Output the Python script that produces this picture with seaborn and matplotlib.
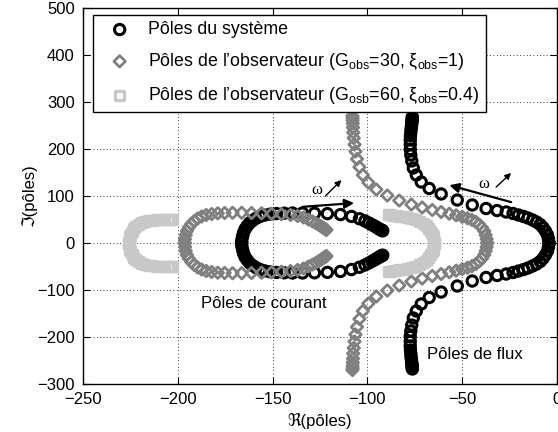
import numpy as np
import pandas as pd
import matplotlib

matplotlib.use("Agg")
import matplotlib.pyplot as plt
import seaborn as sns

# Upper half of each root locus; the lower half is the conjugate.
# System poles: current branch then flux branch
sys_cur_re = [-166.3, -166.2, -165.8, -165.3, -164.5, -163.4, -162.1, -160.5, -158.7, -156.6,
              -154.2, -151.3, -147.9, -143.9, -139.5, -134.2, -127.9, -121.1, -114.2, -108.4,
              -104.2, -101.3, -99.2, -97.6, -96.3, -95.3, -94.4, -93.7, -93.2, -92.6, -92.3, -91.9]
sys_cur_im = [0, 7.4, 14.9, 22.3, 29.8, 36.2, 42.6, 47.9, 52.6, 56.4,
              59.3, 61.3, 62.6, 63.4, 63.8, 63.8, 63.4, 62.5, 60.5, 56.5,
              51.6, 46.8, 42.6, 38.9, 36.2, 33.6, 31.5, 29.8, 28.5, 27.4, 26.6, 26.0]
sys_flux_re = [-4.2, -4.5, -5.0, -6.1, -7.4, -8.9, -10.8, -12.9, -15.3, -17.6,
               -20.3, -23.2, -26.8, -31.6, -37.4, -44.7, -52.6, -61.1, -67.4, -71.6,
               -74.2, -75.8, -76.6, -77.1, -77.4, -77.4, -77.4, -77.3, -77.1, -77.0,
               -76.8, -76.7, -76.6, -76.5, -76.4, -76.3, -76.3, -76.3]
sys_flux_im = [0, 8.5, 17.0, 25.5, 33.0, 39.4, 44.7, 48.9, 53.2, 56.4,
               59.6, 62.8, 66.0, 69.1, 73.4, 80.9, 91.5, 104.3, 116.0, 129.8,
               144.7, 159.6, 174.5, 187.2, 198.9, 209.6, 219.1, 227.7, 235.1, 241.5,
               246.8, 251.5, 255.3, 258.7, 261.7, 264.3, 266.4, 268.1]

# Observer poles, G_obs=30, xi_obs=1
obs30_cur_re = [-196.3, -196.2, -195.8, -195.2, -194.2, -192.9, -191.3, -189.5, -187.4, -185.0,
                -182.1, -178.9, -175.3, -171.1, -166.3, -161.1, -155.8, -150.5, -145.3, -140.5,
                -136.8, -133.7, -131.1, -128.9, -127.1, -125.6, -124.5, -123.6, -122.9, -122.4,
                -121.9, -121.6]
obs30_cur_im = [0, 8.5, 17.0, 25.5, 33.0, 40.4, 46.8, 52.1, 56.4, 59.6,
                61.7, 63.2, 63.8, 64.3, 64.3, 63.8, 63.2, 62.3, 61.1, 59.6,
                57.4, 54.3, 50.0, 45.7, 41.9, 38.3, 35.5, 33.2, 31.3, 29.8,
                28.7, 27.7]
obs30_flux_re = [-36.8, -37.1, -37.6, -38.4, -39.6, -41.1, -42.8, -44.8, -47.2, -50.0,
                 -53.2, -56.8, -61.1, -65.8, -71.1, -76.8, -83.2, -89.5, -95.3, -99.5,
                 -102.4, -104.2, -105.5, -106.3, -106.8, -107.2, -107.5, -107.6, -107.7, -107.8,
                 -107.8, -107.9]
obs30_flux_im = [0, 8.5, 17.0, 25.5, 33.0, 39.4, 44.7, 48.9, 52.6, 55.7,
                 58.9, 62.3, 66.0, 70.2, 75.5, 81.9, 90.4, 101.1, 113.8, 128.7,
                 144.7, 161.7, 178.7, 194.7, 209.6, 223.4, 235.1, 245.7, 254.3, 261.1,
                 266.4, 270.2]

# Observer poles, G_obs=60, xi_obs=0.4
obs60_cur_re = [-225.8, -225.6, -225.3, -224.7, -224.1, -223.2, -222.1, -220.8, -219.2, -217.4,
                -215.3, -213.2, -211.1, -208.9, -206.8, -205.0, -203.7, -202.9]
obs60_cur_im = [0, 6.4, 12.8, 19.1, 25.5, 30.9, 35.5, 39.4, 42.6, 45.1,
                47.2, 48.5, 49.4, 49.8, 50.0, 50.0, 50.0, 50.0]
obs60_flux_re = [-64.7, -64.9, -65.3, -65.8, -66.6, -67.6, -68.9, -70.5, -72.4, -74.5,
                 -76.6, -78.7, -80.8, -82.9, -84.7, -86.3, -87.6, -88.7]
obs60_flux_im = [0, 6.4, 12.8, 19.1, 25.5, 31.9, 37.2, 42.1, 46.2, 49.6,
                 52.1, 54.3, 56.0, 57.4, 58.5, 59.1, 59.6, 59.6]

labels = [
    "Pôles du système",
    r"Pôles de l’observateur (G$_\mathrm{obs}$=30, ξ$_\mathrm{obs}$=1)",
    r"Pôles de l’observateur (G$_\mathrm{osb}$=60, ξ$_\mathrm{obs}$=0.4)",
]


def locus(re_parts, im_parts):
    re = [v for part in re_parts for v in part]
    im = [v for part in im_parts for v in part]
    # poles come in conjugate pairs
    return pd.DataFrame({"re": re + re, "im": im + [-v for v in im]})


plt.rcParams["font.family"] = ["Liberation Sans", "DejaVu Sans"]
plt.rcParams["font.size"] = 12
plt.rcParams["mathtext.fontset"] = "custom"
plt.rcParams["mathtext.rm"] = "Liberation Sans"
plt.rcParams["mathtext.it"] = "Liberation Sans:italic"

fig = plt.figure(figsize=(5.58, 4.32), dpi=100)
ax = fig.add_axes([83 / 558, 48 / 432, 474 / 558, 376 / 432])

sns.scatterplot(data=locus([sys_cur_re, sys_flux_re], [sys_cur_im, sys_flux_im]),
                x="re", y="im", marker="o", s=55, color="black", facecolor="none",
                edgecolor="black", linewidth=2.2, ax=ax, label=labels[0], zorder=3)
sns.scatterplot(data=locus([obs30_cur_re, obs30_flux_re], [obs30_cur_im, obs30_flux_im]),
                x="re", y="im", marker="D", s=34, color="#808080", facecolor="none",
                edgecolor="#808080", linewidth=2.0, ax=ax, label=labels[1], zorder=4)
sns.scatterplot(data=locus([obs60_cur_re, obs60_flux_re], [obs60_cur_im, obs60_flux_im]),
                x="re", y="im", marker="s", s=42, color="#c8c8c8", facecolor="none",
                edgecolor="#c8c8c8", linewidth=2.4, ax=ax, label=labels[2], zorder=5)

ax.set_xlim(-250, 0)
ax.set_ylim(-300, 500)
ax.set_xticks(np.arange(-250, 1, 50))
ax.set_yticks(np.arange(-300, 501, 100))
ax.tick_params(direction="in", top=True, right=True, length=5, width=0.8,
               labelsize=12, pad=6)
ax.grid(True, linestyle=(0, (1, 3)), color="black", linewidth=0.6)
ax.set_axisbelow(True)
for sp in ax.spines.values():
    sp.set_linewidth(1.0)

ax.set_xlabel("ℜ(pôles)", fontsize=12, labelpad=4)
ax.set_ylabel("ℑ(pôles)", fontsize=12, labelpad=0)

ax.text(-187.9, -127.7, "Pôles de courant", ha="left", va="center", fontsize=12)
ax.text(-68.4, -236.2, "Pôles de flux", ha="left", va="center", fontsize=12)

# omega direction arrows
big = dict(arrowstyle="-|>", color="black", lw=1.6, mutation_scale=14, shrinkA=0, shrinkB=0)
small = dict(arrowstyle="-|>", color="black", lw=1.0, mutation_scale=9, shrinkA=0, shrinkB=0)
ax.annotate("", xy=(-107, 85), xytext=(-134, 77), arrowprops=big, zorder=6)
ax.annotate("", xy=(-113.7, 134), xytext=(-122.1, 100), arrowprops=small, zorder=6)
ax.text(-126.8, 112, "ω", ha="center", va="center", fontsize=12, family="Liberation Serif")
ax.annotate("", xy=(-56.8, 123), xytext=(-24.2, 87), arrowprops=big, zorder=6)
ax.annotate("", xy=(-24.2, 149), xytext=(-32.1, 119), arrowprops=small, zorder=6)
ax.text(-38.4, 126, "ω", ha="center", va="center", fontsize=12, family="Liberation Serif")

leg = ax.legend(loc="upper left", bbox_to_anchor=(0.0211, 0.9814), borderaxespad=0,
                fancybox=False, edgecolor="black", framealpha=1, fontsize=12.8,
                handlelength=2.3, handletextpad=0.45, borderpad=0.35, labelspacing=0.72,
                scatterpoints=1)
leg.get_frame().set_linewidth(1.0)

fig.savefig("out.png", dpi=100)
